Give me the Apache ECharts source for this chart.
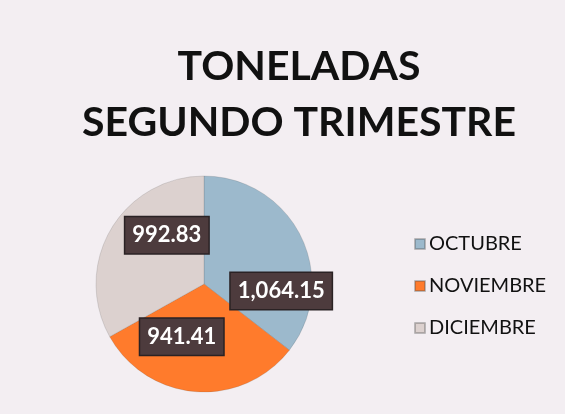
<!DOCTYPE html>
<html><head><meta charset="utf-8">
<script src="https://cdn.jsdelivr.net/npm/echarts@6/dist/echarts.min.js"></script>
<style>html,body{margin:0;padding:0;background:#f3eef2}#c{width:565px;height:414px}</style>
</head><body><div id="c"></div>
<script>
const titleLines = ['TONELADAS', 'SEGUNDO TRIMESTRE'];
const categories = ['OCTUBRE', 'NOVIEMBRE', 'DICIEMBRE'];
const values = [1064.15, 941.41, 992.83];
const colors = ['#9cb9cc', '#ff7b2c', '#dcd1cf'];
const labelOffsets = [[26, 32], [-18, -4], [12, -20]];

const fmt = v => v.toLocaleString('en-US', {minimumFractionDigits: 2, maximumFractionDigits: 2});
const chart = echarts.init(document.getElementById('c'));
chart.setOption({
  backgroundColor: '#f3eef2',
  title: {
    text: titleLines.join('\n'), left: 294, top: 34, textAlign: 'center',
    textStyle: {fontFamily: 'Lato', fontWeight: 'bold', fontSize: 41, lineHeight: 56, color: '#111'}
  },
  legend: {
    orient: 'vertical', left: 409, top: 229, itemGap: 22,
    itemWidth: 10, itemHeight: 10, icon: 'rect',
    textStyle: {fontFamily: 'Lato', fontSize: 20, color: '#111', padding: [0,0,0,-1]},
    data: categories
  },
  series: [{
    type: 'pie', center: [204, 284], radius: 108, startAngle: 90, clockwise: true,
    label: {
      position: 'inside', formatter: p => fmt(p.value),
      color: '#fff', fontFamily: 'Lato', fontWeight: 'bold', fontSize: 22,
      backgroundColor: '#4d3b3d', borderColor: '#2a2224', borderWidth: 1.5, padding: [8, 7, 6, 7]
    },
    labelLine: {show: false},
    itemStyle: {borderColor: 'rgba(80,80,80,0.35)', borderWidth: 0.5},
    emphasis: {disabled: true},
    data: categories.map((c, i) => ({
      name: c, value: values[i], itemStyle: {color: colors[i]},
      label: {offset: labelOffsets[i]}
    }))
  }]
});
</script></body></html>
